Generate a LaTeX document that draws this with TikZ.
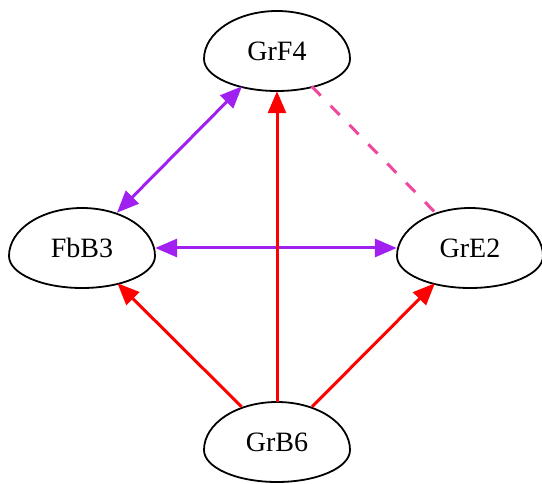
\documentclass[tikz,border=0pt]{standalone}
\usepackage{fontspec}
\setmainfont{Liberation Serif}
\usetikzlibrary{arrows.meta,shapes.geometric}
\definecolor{edgepurple}{HTML}{A020F0}
\definecolor{edgered}{HTML}{FF0000}
\definecolor{edgepink}{HTML}{F0479E}

\begin{document}
\begin{tikzpicture}[x=1pt,y=1pt,
  egg/.style={ellipse,minimum width=146pt,minimum height=80pt,
    inner sep=0pt,font=\fontsize{28}{30}\selectfont},
  eggline/.style={line width=1.8pt,black},
  link/.style={line width=3pt,
    arrows={-Triangle[length=22pt,width=18pt]}},
  both/.style={link,edgepurple,
    arrows={Triangle[length=22pt,width=18pt]-Triangle[length=22pt,width=18pt]}}]
  \useasboundingbox (0,0) rectangle (542,483);

  \node[egg] (GrF4) at (277,432) {GrF4};
  \node[egg] (FbB3) at (82,235) {FbB3};
  \node[egg] (GrE2) at (470,235) {GrE2};
  \node[egg] (GrB6) at (277,41) {GrB6};

  % egg outlines
  \foreach \n in {GrF4,FbB3,GrE2,GrB6}
    \draw[eggline] ([shift={(-73,-8)}]\n.center)
      arc[start angle=180,end angle=0,x radius=73,y radius=48]
      arc[start angle=0,end angle=-180,x radius=73,y radius=32] -- cycle;

  \draw[both] (FbB3) -- (GrF4);
  \draw[both] (FbB3) -- (GrE2);
  \draw[edgepink,line width=3pt,dash pattern=on 13pt off 14pt] (GrF4) -- (GrE2);
  \draw[link,edgered] (GrB6) -- (GrF4);
  \draw[link,edgered] (GrB6) -- (FbB3);
  \draw[link,edgered] (GrB6) -- (GrE2);
\end{tikzpicture}
\end{document}
